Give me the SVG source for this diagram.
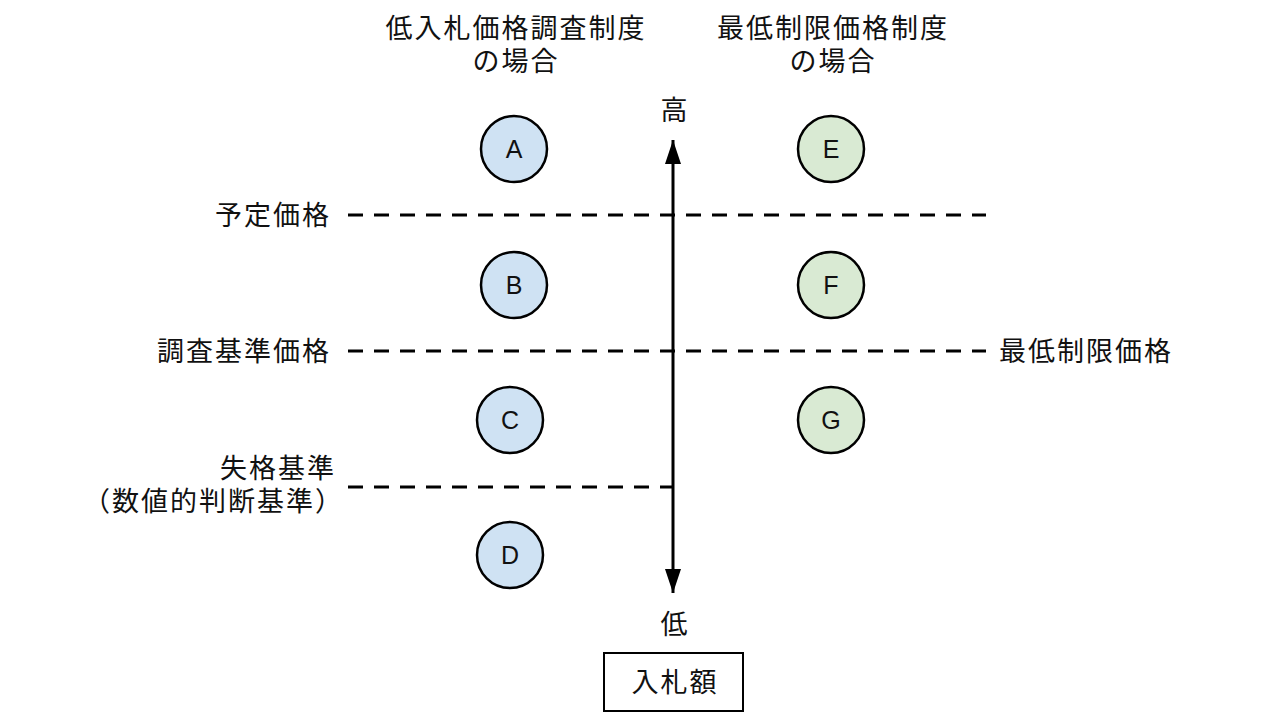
<svg xmlns="http://www.w3.org/2000/svg" width="1280" height="720" viewBox="0 0 1280 720">
<defs>
<style>
.t{font-family:"Noto Sans CJK JP","Noto Sans CJK SC",sans-serif;font-size:27px;letter-spacing:2px;fill:#111;}
.c{stroke:#000;stroke-width:2.5;}
.blue{fill:#cfe2f3;}
.green{fill:#d9ead3;}
.l{font-family:"Liberation Sans",Arial,sans-serif;font-size:25px;fill:#111;text-anchor:middle;}
.d{stroke:#000;stroke-width:3;stroke-dasharray:15 11;fill:none;}
</style>
<marker id="ah" viewBox="0 0 24 16" refX="24" refY="8" markerWidth="24" markerHeight="16" markerUnits="userSpaceOnUse" orient="auto">
<path d="M0,0 L24,8 L0,16 z" fill="#000"/>
</marker>
</defs>
<rect width="1280" height="720" fill="#fff"/>
<g id="title-left">
<text class="t" x="516" y="38" text-anchor="middle">低入札価格調査制度</text>
<text class="t" x="516" y="71" text-anchor="middle">の場合</text>
</g>
<g id="title-right">
<text class="t" x="833" y="38" text-anchor="middle">最低制限価格制度</text>
<text class="t" x="833" y="71" text-anchor="middle">の場合</text>
</g>
<g id="connectors">
<line class="d" x1="348" y1="215" x2="986" y2="215"/>
<line class="d" x1="348" y1="351" x2="986" y2="351"/>
<line class="d" x1="348" y1="487" x2="673" y2="487"/>
<line x1="673" y1="370" x2="673" y2="140" stroke="#000" stroke-width="3" marker-end="url(#ah)"/>
<line x1="673" y1="370" x2="673" y2="593" stroke="#000" stroke-width="3" marker-end="url(#ah)"/>
</g>
<g id="labels">
<text class="t" x="675" y="120" text-anchor="middle">高</text>
<text class="t" x="675" y="634" text-anchor="middle">低</text>
<text class="t" x="331" y="225" text-anchor="end">予定価格</text>
<text class="t" x="331" y="361" text-anchor="end">調査基準価格</text>
<text class="t" x="999" y="361">最低制限価格</text>
<text class="t" x="336" y="478" text-anchor="end">失格基準</text>
<text class="t" x="344" y="511" text-anchor="end">（数値的判断基準）</text>
</g>
<g id="node-A"><circle class="c blue" cx="514" cy="149" r="33"/><text class="l" x="514" y="158">A</text></g>
<g id="node-B"><circle class="c blue" cx="514" cy="285" r="33"/><text class="l" x="514" y="294">B</text></g>
<g id="node-C"><circle class="c blue" cx="510" cy="420" r="33"/><text class="l" x="510" y="429">C</text></g>
<g id="node-D"><circle class="c blue" cx="510" cy="555" r="33"/><text class="l" x="510" y="564">D</text></g>
<g id="node-E"><circle class="c green" cx="831" cy="149" r="33"/><text class="l" x="831" y="158">E</text></g>
<g id="node-F"><circle class="c green" cx="831" cy="285" r="33"/><text class="l" x="831" y="294">F</text></g>
<g id="node-G"><circle class="c green" cx="831" cy="420" r="33"/><text class="l" x="831" y="429">G</text></g>
<g id="node-amount">
<rect x="604" y="653" width="139" height="58" fill="#fff" stroke="#000" stroke-width="2"/>
<text class="t" x="675" y="692" text-anchor="middle">入札額</text>
</g>
</svg>
